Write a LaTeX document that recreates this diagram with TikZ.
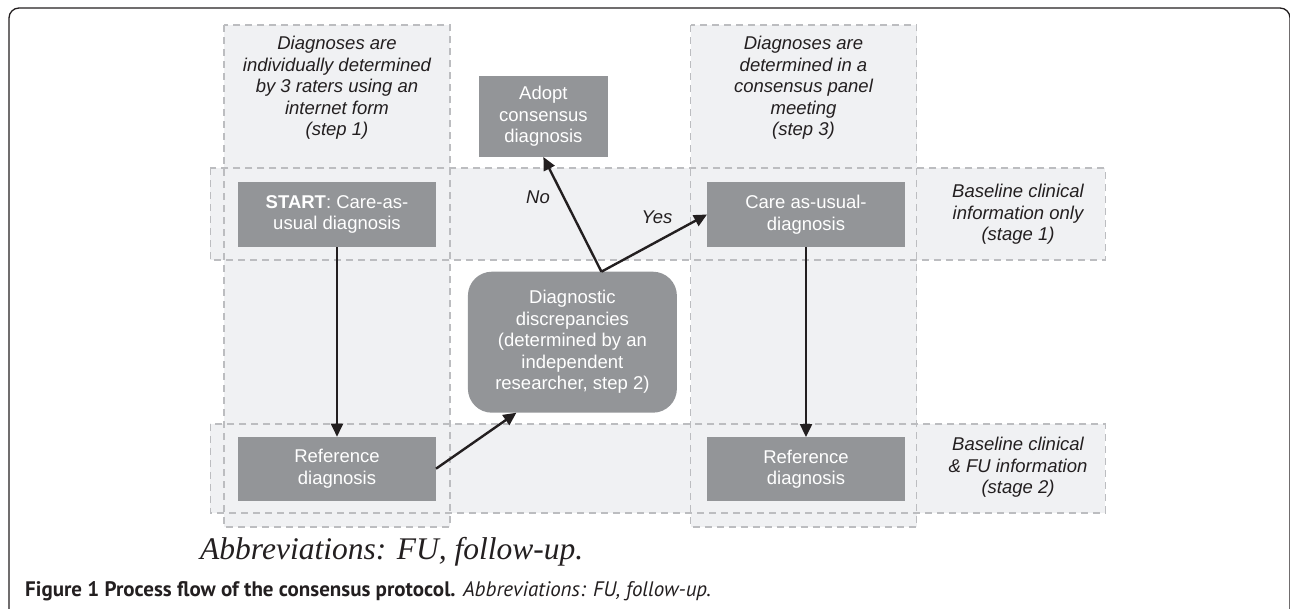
\documentclass[tikz,border=0pt]{standalone}
\usepackage{fontspec}
\setsansfont{Liberation Sans}
\newfontfamily\serifit{Liberation Serif}
\newfontfamily\capfont{PT Sans}
\usetikzlibrary{arrows.meta,calc}
\definecolor{bandfill}{HTML}{F0F1F3}
\definecolor{bandline}{HTML}{BCBDC0}
\definecolor{boxfill}{HTML}{939598}
\definecolor{ink}{HTML}{231F20}
\newcommand{\dfs}{\sffamily\fontsize{18.5}{21.5}\selectfont}
\tikzset{
  band/.style={fill=bandfill, draw=none, inner sep=0pt, outer sep=0pt},
  bandborder/.style={draw=bandline, line width=1.4pt, dash pattern=on 7pt off 5pt},
  gbox/.style={fill=boxfill, draw=none, text=white, align=center, inner sep=0pt, outer sep=0pt, font=\dfs},
  note/.style={text=ink, align=center, font=\dfs\itshape, inner sep=0pt},
  arr/.style={draw=ink, line width=2.4pt, -{Triangle[length=13pt,width=12pt]}},
  lbl/.style={text=ink, font=\dfs\itshape, inner sep=0pt},
}
\begin{document}
\begin{tikzpicture}[x=1pt,y=-1pt]
\useasboundingbox (0,0) rectangle (1290,608);
% outer frame
\draw[ink, line width=1.3pt, rounded corners=10pt] (9,616) -- (9,8) -- (1290,8) -- (1290,616);
% bands (fills)
\node[band, minimum width=226pt, minimum height=502pt] (colL) at (337,276) {};
\node[band, minimum width=226pt, minimum height=502pt] (colR) at (803.7,276) {};
\node[band, minimum width=895pt, minimum height=92pt] (row1) at (657.8,214) {};
\node[band, minimum width=895pt, minimum height=89pt] (row2) at (657.8,468.4) {};
% band borders
\foreach \b in {colL,colR,row1,row2}{
  \draw[bandborder] (\b.north west) rectangle (\b.south east);
}
% headers
\node[note] (hL) at (337,88) {Diagnoses are\\individually determined\\by 3 raters using an\\internet form\\(step 1)};
\node[note] (hR) at (803.5,88) {Diagnoses are\\determined in a\\consensus panel\\meeting\\(step 3)};
\node[note] (s1) at (1018,214.5) {Baseline clinical\\information only\\(stage 1)};
\node[note] (s2) at (1018,467.5) {Baseline clinical\\\& FU information\\(stage 2)};
% boxes
\node[gbox, minimum width=198pt, minimum height=65pt] (start) at (337,214.5) {\textbf{START}: Care-as-\\usual diagnosis};
\node[gbox, minimum width=198pt, minimum height=64pt] (refL) at (337,468.7) {Reference\\diagnosis};
\node[gbox, minimum width=129pt, minimum height=81pt] (adopt) at (543.4,116.5) {Adopt\\consensus\\diagnosis};
\node[gbox, minimum width=198pt, minimum height=65pt] (careR) at (806,214.5) {Care as-usual-\\diagnosis};
\node[gbox, minimum width=198pt, minimum height=64pt] (refR) at (806,469) {Reference\\diagnosis};
\node[gbox, rounded corners=24pt, minimum width=209pt, minimum height=141pt] (disc) at (572.4,342.2) {Diagnostic\\discrepancies\\(determined by an\\independent\\researcher, step 2)};
% arrows
\draw[arr] (start.south) -- (refL.north);
\draw[arr] (careR.south) -- (refR.north);
\draw[arr] (refL.east) -- ([xshift=-56pt]disc.south);
\coordinate (jn) at ([xshift=29pt]disc.north);
\draw[arr] (jn) -- (adopt.south);
\draw[arr] (jn) -- (careR.west);
\node[lbl] (no) at (538,197) {No};
\node[lbl] (yes) at (657,217) {Yes};
% abbreviations
\node[anchor=base west, inner sep=0pt, text=ink, font=\serifit\itshape\fontsize{31.5}{36}\selectfont] (abbr) at (200,559) {Abbreviations: FU, follow-up.};
% caption
\node[anchor=base west, inner sep=0pt, text=ink, font=\capfont\fontsize{21}{24}\selectfont] (cap) at (25,596.5) {\textbf{Figure 1 Process flow of the consensus protocol.} {\itshape Abbreviations: FU, follow-up.}};
\end{tikzpicture}
\end{document}
